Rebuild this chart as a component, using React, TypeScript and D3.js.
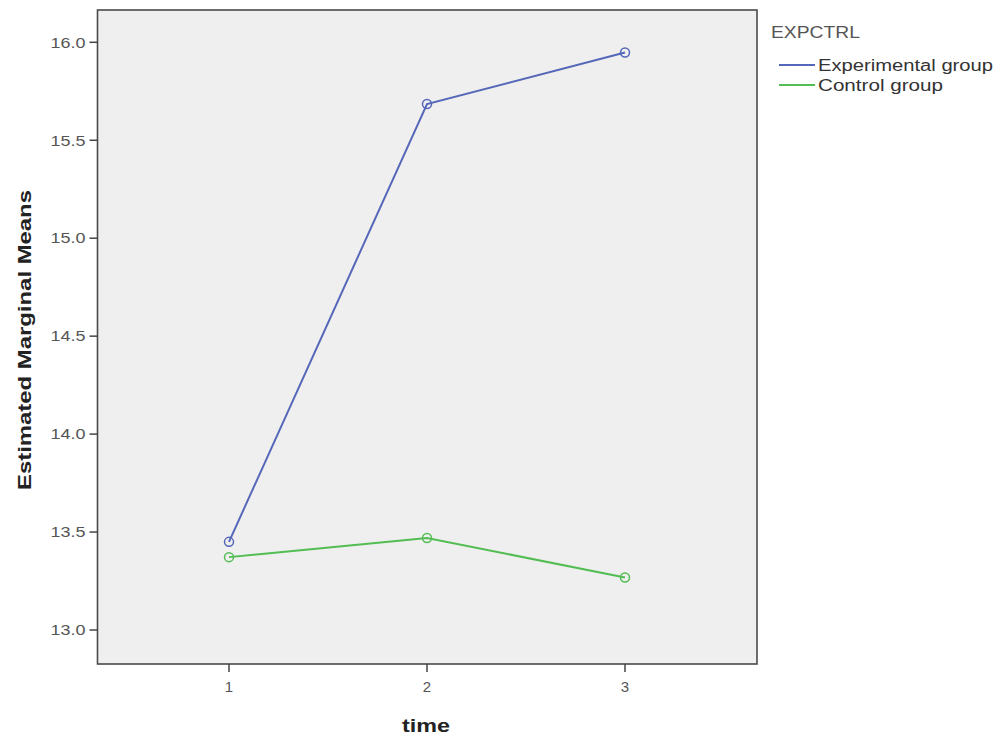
import React from "react";
import * as d3 from "d3";

const timePoints = [1, 2, 3];
const experimentalValues = [13.45, 15.685, 15.948];
const controlValues = [13.372, 13.47, 13.268];
const yTicks = [13.0, 13.5, 14.0, 14.5, 15.0, 15.5, 16.0];
const seriesNames = ["Experimental group", "Control group"];
const seriesColors = ["#5567b8", "#52bd52"];
const legendTextLengths = [175, 125];

export default function App() {
  const W = 1000, H = 737;
  const left = 97.5, right = 757, top = 10, bottom = 664;
  const x = d3.scaleLinear().domain([1, 3]).range([229, 625]);
  const y = d3.scaleLinear().domain([13.0, 16.0]).range([630, 42.3]);
  const line = d3.line<[number, number]>().x(d => x(d[0])).y(d => y(d[1]));
  const series = [experimentalValues, controlValues];
  const font = "Arial, 'Liberation Sans', sans-serif";

  return (
    <svg width={W} height={H} style={{ position: "absolute", left: 0, top: 0, background: "#fff" }}
      fontFamily={font}>
      <rect x={left} y={top} width={right - left} height={bottom - top} fill="#efefef" stroke="#4a4a4a" strokeWidth={1.6} />
      {yTicks.map(t => (
        <g key={t}>
          <line x1={left - 8} x2={left} y1={y(t)} y2={y(t)} stroke="#444" strokeWidth={1.5} />
          <text x={left - 12} y={y(t)} dy="0.35em" textAnchor="end" fontSize={15} fill="#555"
            textLength={35} lengthAdjust="spacingAndGlyphs">{t.toFixed(1)}</text>
        </g>
      ))}
      {timePoints.map(t => (
        <g key={t}>
          <line x1={x(t)} x2={x(t)} y1={bottom} y2={bottom + 8} stroke="#444" strokeWidth={1.5} />
          <text x={x(t)} y={bottom + 23} dy="0.35em" textAnchor="middle" fontSize={15} fill="#555">{t}</text>
        </g>
      ))}
      <text x={0} y={0} transform={`translate(24,340) rotate(-90)`} textAnchor="middle" dy="0.35em"
        fontSize={19} fontWeight="bold" fill="#222" textLength={300} lengthAdjust="spacingAndGlyphs">Estimated Marginal Means</text>
      <text x={426} y={725} dy="0.35em" textAnchor="middle" fontSize={19} fontWeight="bold" fill="#222"
        textLength={48} lengthAdjust="spacingAndGlyphs">time</text>
      {series.map((vals, i) => {
        const pts: [number, number][] = vals.map((v, j) => [timePoints[j], v]);
        return (
          <g key={i}>
            <path d={line(pts) || ""} fill="none" stroke={seriesColors[i]} strokeWidth={2} />
            {pts.map((p, j) => (
              <circle key={j} cx={x(p[0])} cy={y(p[1])} r={4.5} fill="none" stroke={seriesColors[i]} strokeWidth={1.5} />
            ))}
          </g>
        );
      })}
      <text x={771} y={32} dy="0.35em" fontSize={16} fill="#555" textLength={89} lengthAdjust="spacingAndGlyphs">EXPCTRL</text>
      {seriesNames.map((n, i) => (
        <g key={n}>
          <line x1={779} x2={815} y1={65 + i * 20} y2={65 + i * 20} stroke={seriesColors[i]} strokeWidth={2} />
          <text x={818} y={65 + i * 20} dy="0.35em" fontSize={16} fill="#333"
            textLength={legendTextLengths[i]} lengthAdjust="spacingAndGlyphs">{n}</text>
        </g>
      ))}
    </svg>
  );
}
